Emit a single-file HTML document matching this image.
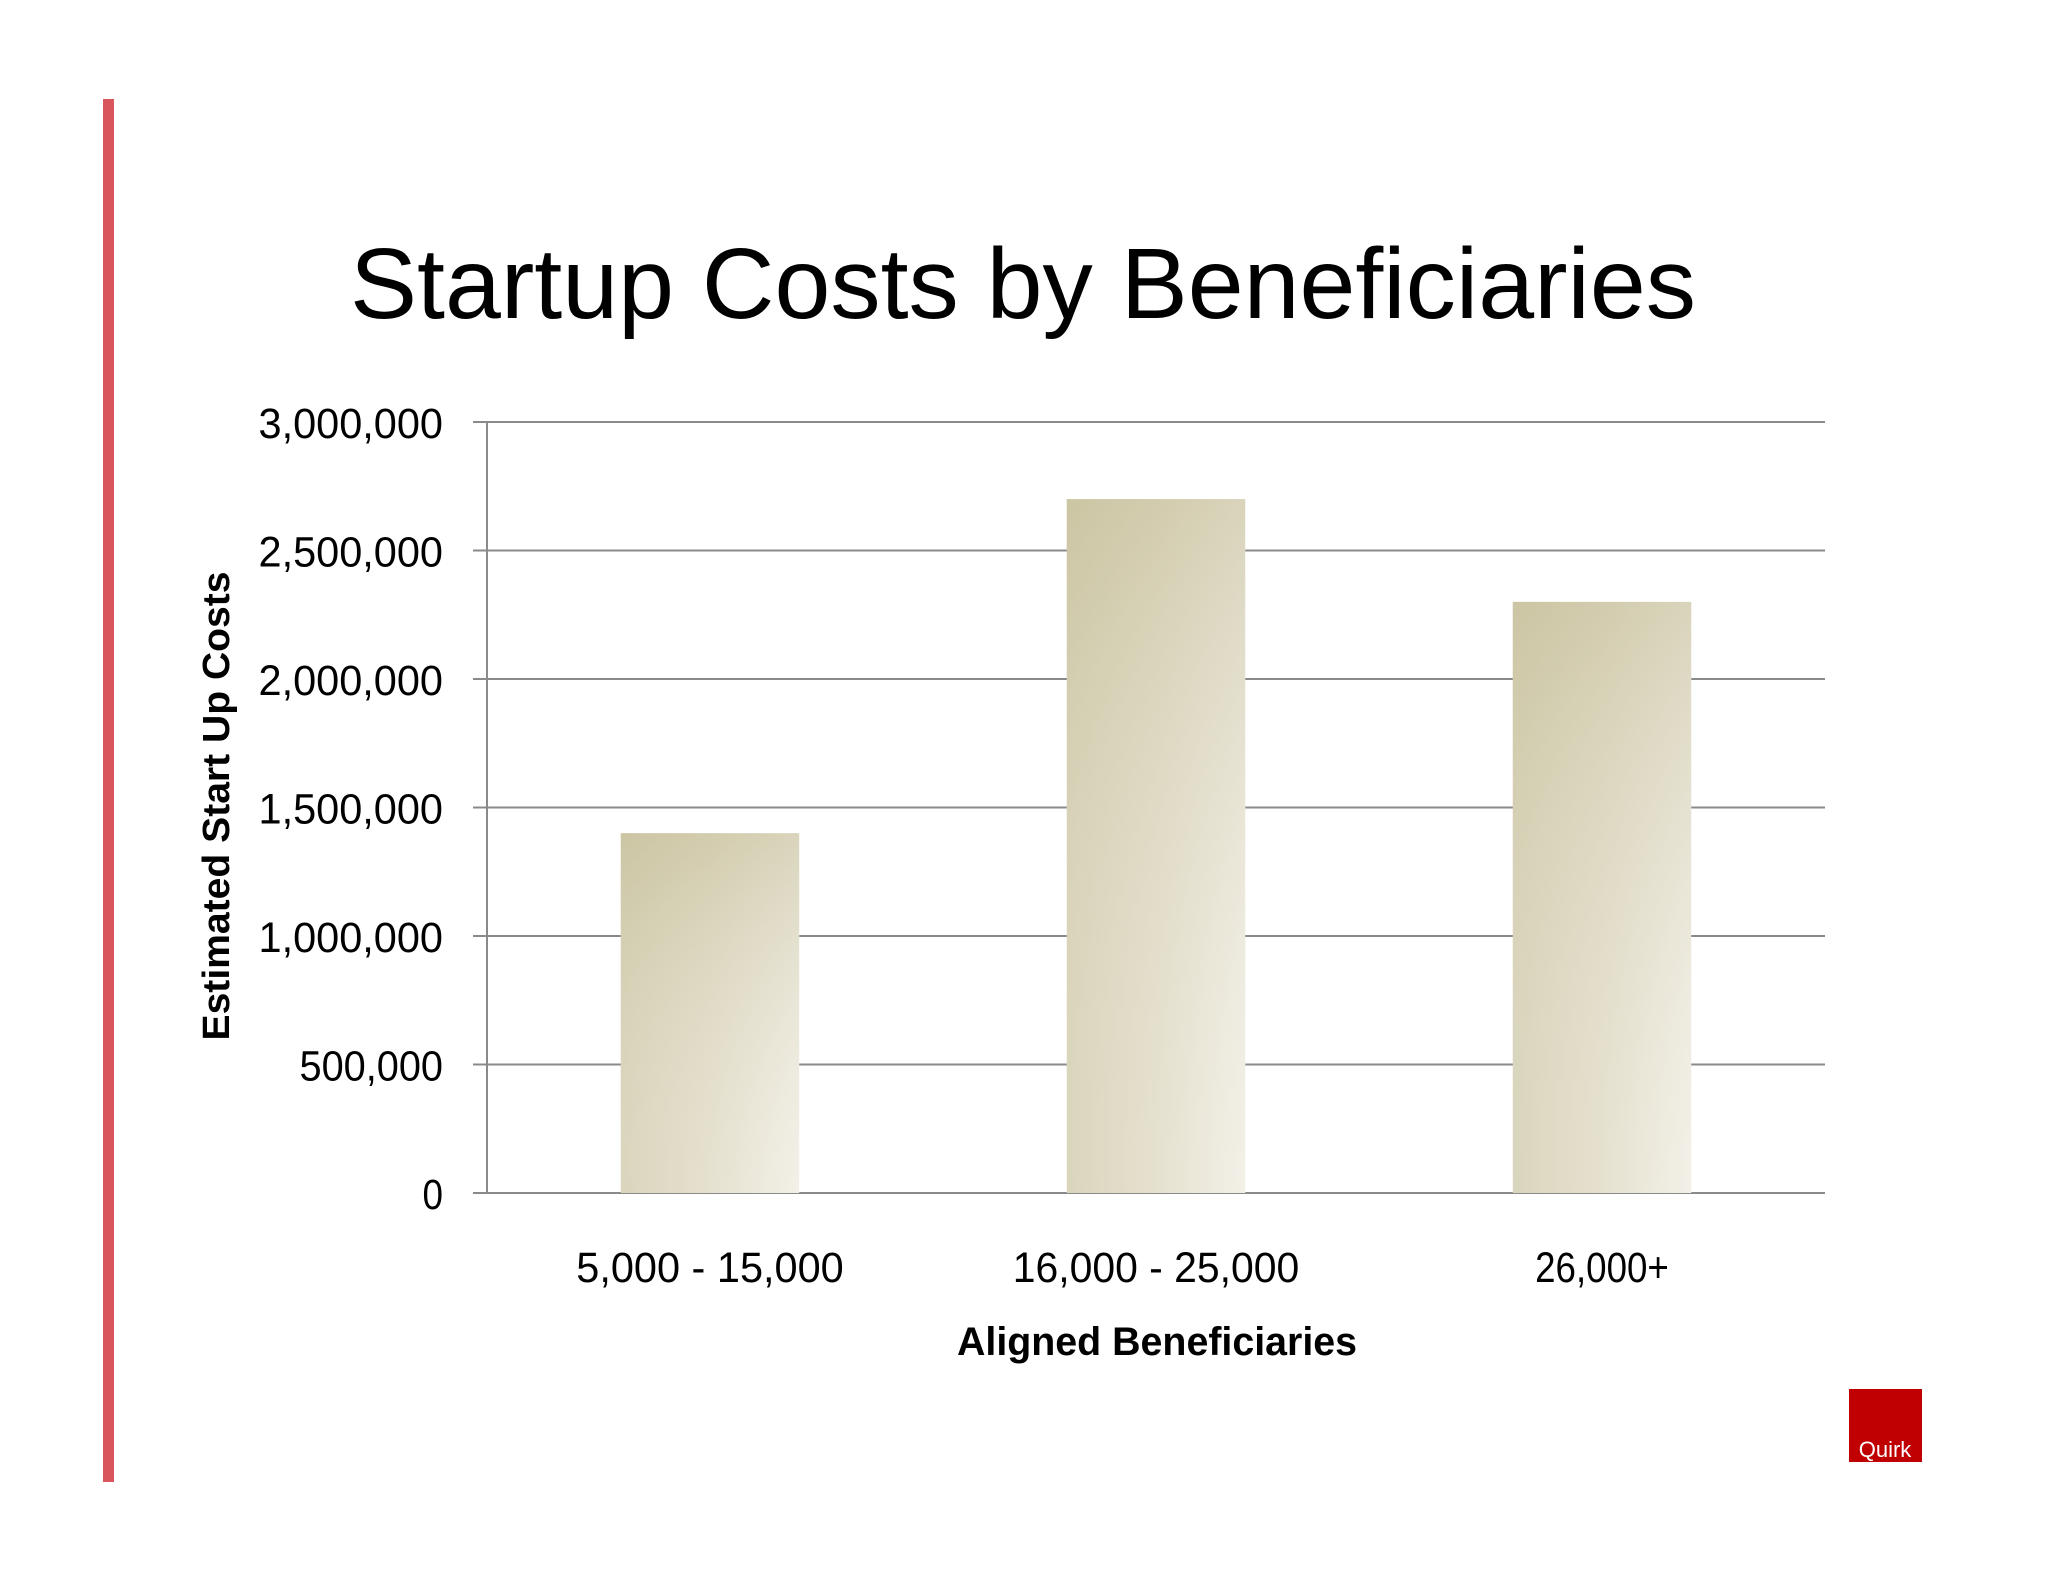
<!DOCTYPE html>
<html><head><meta charset="utf-8"><style>
html,body{margin:0;padding:0;background:#fff;}
svg{display:block;}
text{font-family:"Liberation Sans",sans-serif;}
</style></head><body>
<svg id="chart" width="2048" height="1582" viewBox="0 0 2048 1582" xmlns="http://www.w3.org/2000/svg">
<defs>
<linearGradient id="barH" x1="0" y1="0" x2="1" y2="0">
<stop offset="0" stop-color="#cdc7a6"/><stop offset="0.5" stop-color="#ddd7bf"/><stop offset="1" stop-color="#eeebe0"/>
</linearGradient>
<linearGradient id="barV" x1="0" y1="0" x2="0" y2="1">
<stop offset="0" stop-color="#cbc4a2" stop-opacity="0.6"/><stop offset="1" stop-color="#ffffff" stop-opacity="0.25"/>
</linearGradient>
</defs>
<rect x="0" y="0" width="2048" height="1582" fill="#ffffff"/>
<rect x="103" y="99" width="11" height="1383" fill="#d9575c"/>
<text x="1023" y="318" font-size="100" text-anchor="middle" textLength="1346" lengthAdjust="spacingAndGlyphs" fill="#000">Startup Costs by Beneficiaries</text>
<g id="grid"></g>
<g id="bars"></g>
<g id="yticks"></g>
<g id="xticks"></g>
<line x1="487" y1="422" x2="487" y2="1193" stroke="#8a8a8a" stroke-width="2"/>
<text transform="translate(229,806) rotate(-90)" font-size="38" font-weight="bold" text-anchor="middle" textLength="469" lengthAdjust="spacingAndGlyphs" fill="#000">Estimated Start Up Costs</text>
<text x="1157" y="1355" font-size="40" font-weight="bold" text-anchor="middle" textLength="400" lengthAdjust="spacingAndGlyphs" fill="#000">Aligned Beneficiaries</text>
<rect x="1849" y="1389" width="73" height="73" fill="#c00000"/>
<text x="1885" y="1457" font-size="22" text-anchor="middle" fill="#fff">Quirk</text>
</svg>
<script>
const categories = ["5,000 - 15,000", "16,000 - 25,000", "26,000+"];
const values = [1400000, 2700000, 2300000];
const yTicks = [0, 500000, 1000000, 1500000, 2000000, 2500000, 3000000];
const yTickLabels = ["0", "500,000", "1,000,000", "1,500,000", "2,000,000", "2,500,000", "3,000,000"];

const NS = "http://www.w3.org/2000/svg";
const plotL = 487, plotR = 1825, plotT = 422, plotB = 1193, yMax = 3000000;
function yScale(v){ return plotB - (v / yMax) * (plotB - plotT); }
const band = (plotR - plotL) / categories.length;
function xCenter(i){ return plotL + band * (i + 0.5); }
const barW = band * 0.4;

const grid = document.getElementById('grid');
const yt = document.getElementById('yticks');
yTicks.forEach((t, i) => {
  const y = yScale(t);
  const l = document.createElementNS(NS, 'line');
  
  
  l.setAttribute('x1', 473); l.setAttribute('x2', plotR);
  l.setAttribute('y1', y); l.setAttribute('y2', y);
  l.setAttribute('stroke', '#8a8a8a'); l.setAttribute('stroke-width', 2);
  grid.appendChild(l);
  const tx = document.createElementNS(NS, 'text');
  
  
  tx.setAttribute('x', 443); tx.setAttribute('y', y + 16);
  tx.setAttribute('font-size', 43); tx.setAttribute('text-anchor', 'end');
  tx.setAttribute('textLength', yTickLabels[i].length * 20.5);
  tx.setAttribute('lengthAdjust', 'spacingAndGlyphs');
  tx.textContent = yTickLabels[i];
  yt.appendChild(tx);
});

const bars = document.getElementById('bars');
const xt = document.getElementById('xticks');
categories.forEach((c, i) => {
  const x = xCenter(i) - barW / 2, y = yScale(values[i]), h = plotB - y;
  const r = document.createElementNS(NS, 'rect');
  
  
  r.setAttribute('x', x); r.setAttribute('y', y);
  r.setAttribute('width', barW); r.setAttribute('height', h);
  r.setAttribute('fill', 'url(#barH)');
  bars.appendChild(r);
  const r2 = document.createElementNS(NS, 'rect');
  
  
  r2.setAttribute('x', x); r2.setAttribute('y', y);
  r2.setAttribute('width', barW); r2.setAttribute('height', h);
  r2.setAttribute('fill', 'url(#barV)');
  bars.appendChild(r2);
  const tx = document.createElementNS(NS, 'text');
  
  
  tx.setAttribute('x', xCenter(i)); tx.setAttribute('y', 1282);
  tx.setAttribute('font-size', 43); tx.setAttribute('text-anchor', 'middle');
  tx.setAttribute('textLength', c.length * 19.1);
  tx.setAttribute('lengthAdjust', 'spacingAndGlyphs');
  tx.textContent = c;
  xt.appendChild(tx);
});
</script>
</body></html>
